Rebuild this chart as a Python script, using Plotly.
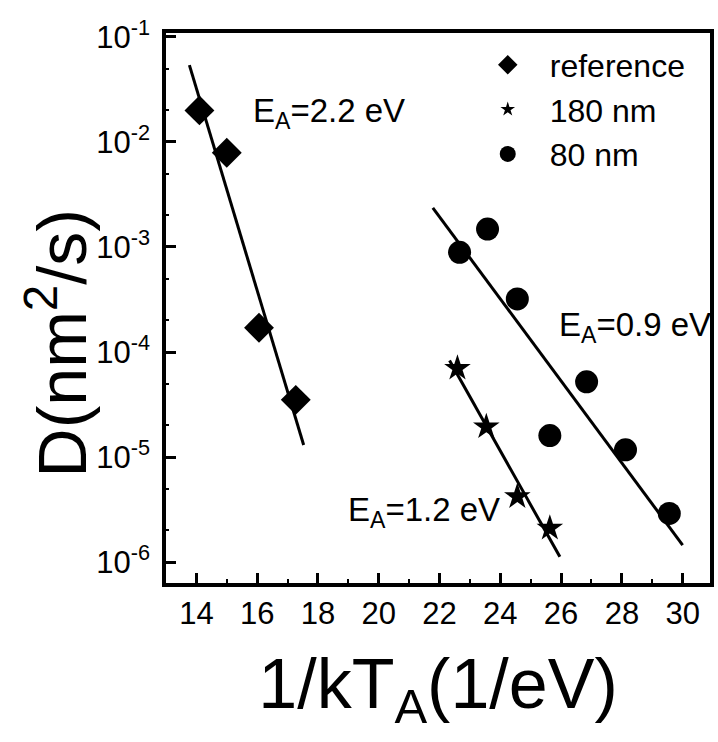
import math
import plotly.graph_objects as go

# ---- data ----
ref_x = [14.1, 15.0, 16.06, 17.27]
ref_y = [2.0e-2, 7.9e-3, 1.7e-4, 3.5e-5]

s180_x = [22.59, 23.54, 24.56, 25.63]
s180_y = [7.0e-5, 1.94e-5, 4.2e-6, 2.1e-6]

s80_x = [22.66, 23.58, 24.56, 26.84, 25.63, 28.12, 29.56]
s80_y = [8.9e-4, 1.48e-3, 3.2e-4, 5.2e-5, 1.6e-5, 1.17e-5, 2.9e-6]

# Arrhenius fit lines (end points)
fit_ref_x = [13.77, 17.53]
fit_ref_y = [5.4e-2, 1.3e-5]
fit_180_x = [22.33, 25.96]
fit_180_y = [8.3e-5, 1.12e-6]
fit_80_x = [21.78, 30.0]
fit_80_y = [2.36e-3, 1.45e-6]

series_names = ["reference", "180 nm", "80 nm"]
ea_labels = ["E<sub>A</sub>=2.2 eV", "E<sub>A</sub>=1.2 eV", "E<sub>A</sub>=0.9 eV"]
ea_pos_x = [15.8, 18.93, 25.86]
ea_pos_y = [1.9e-2, 3.0e-6, 1.74e-4]

y_tickvals = [1e-6, 1e-5, 1e-4, 1e-3, 1e-2, 1e-1]
y_ticktext = ["10<sup>-6</sup>", "10<sup>-5</sup>", "10<sup>-4</sup>",
              "10<sup>-3</sup>", "10<sup>-2</sup>", "10<sup>-1</sup>"]
x_tickvals = [14, 16, 18, 20, 22, 24, 26, 28, 30]

FONT = "Arial, Liberation Sans, sans-serif"
BLACK = "black"

fig = go.Figure()

# fit lines
for fx, fy in [(fit_ref_x, fit_ref_y), (fit_180_x, fit_180_y), (fit_80_x, fit_80_y)]:
    fig.add_trace(go.Scatter(x=fx, y=fy, mode="lines",
                             line=dict(color=BLACK, width=3),
                             showlegend=False, hoverinfo="skip"))

# data markers
fig.add_trace(go.Scatter(x=ref_x, y=ref_y, mode="markers", showlegend=False,
                         marker=dict(symbol="diamond", size=23, color=BLACK)))
fig.add_trace(go.Scatter(x=s180_x, y=s180_y, mode="markers", showlegend=False,
                         marker=dict(symbol="star", size=20, color=BLACK)))
fig.add_trace(go.Scatter(x=s80_x, y=s80_y, mode="markers", showlegend=False,
                         marker=dict(symbol="circle", size=23, color=BLACK)))

# legend entries (no data points of their own)
for name, sym, sz in zip(series_names, ["diamond", "star", "circle"], [15, 11, 16]):
    fig.add_trace(go.Scatter(x=[None], y=[None], mode="markers", name=name,
                             marker=dict(symbol=sym, size=sz, color=BLACK)))

# activation-energy labels (log axis -> annotation y in log10 units)
for txt, ax_, ay_ in zip(ea_labels, ea_pos_x, ea_pos_y):
    fig.add_annotation(x=ax_, y=math.log10(ay_), xref="x", yref="y", text=txt,
                       showarrow=False, xanchor="left", yanchor="middle",
                       font=dict(family=FONT, size=33, color=BLACK))

# y-axis title as annotation
fig.add_annotation(x=-0.2, y=0.436, xref="paper", yref="paper", text="D(nm<sup>2</sup>/s)",
                   showarrow=False, textangle=-90, xanchor="center", yanchor="middle",
                   font=dict(family=FONT, size=68, color=BLACK))

fig.update_layout(
    width=718, height=742,
    margin=dict(l=166, r=4, t=33, b=159),
    paper_bgcolor="white", plot_bgcolor="white",
    font=dict(family=FONT, color=BLACK),
    legend=dict(x=0.551, y=0.992, xanchor="left", yanchor="top",
                font=dict(family=FONT, size=32, color=BLACK),
                itemwidth=74, bgcolor="rgba(0,0,0,0)", tracegroupgap=0),
    xaxis=dict(range=[13, 30.9], tickvals=x_tickvals, ticks="inside", ticklen=10,
               tickwidth=3, tickcolor=BLACK, showline=True, linewidth=3.5,
               linecolor=BLACK, mirror=True, showgrid=False, zeroline=False,
               tickfont=dict(family=FONT, size=31, color=BLACK),
               minor=dict(tickvals=[15, 17, 19, 21, 23, 25, 27, 29], ticks="inside",
                          ticklen=4, tickwidth=2, tickcolor=BLACK),
               title=dict(text="1/kT<sub>A</sub>(1/eV)",
                          font=dict(family=FONT, size=70, color=BLACK), standoff=30)),
    yaxis=dict(type="log", range=[-6.2, -0.962], tickvals=y_tickvals, ticktext=y_ticktext,
               ticks="inside", ticklen=10, tickwidth=3, tickcolor=BLACK,
               showline=True, linewidth=3.5, linecolor=BLACK, mirror=True,
               showgrid=False, zeroline=False, ticklabelstandoff=6,
               tickfont=dict(family=FONT, size=31, color=BLACK),
               minor=dict(ticks="inside", ticklen=3, tickwidth=1.5, tickcolor=BLACK)),
)

fig.write_html("out.html")
